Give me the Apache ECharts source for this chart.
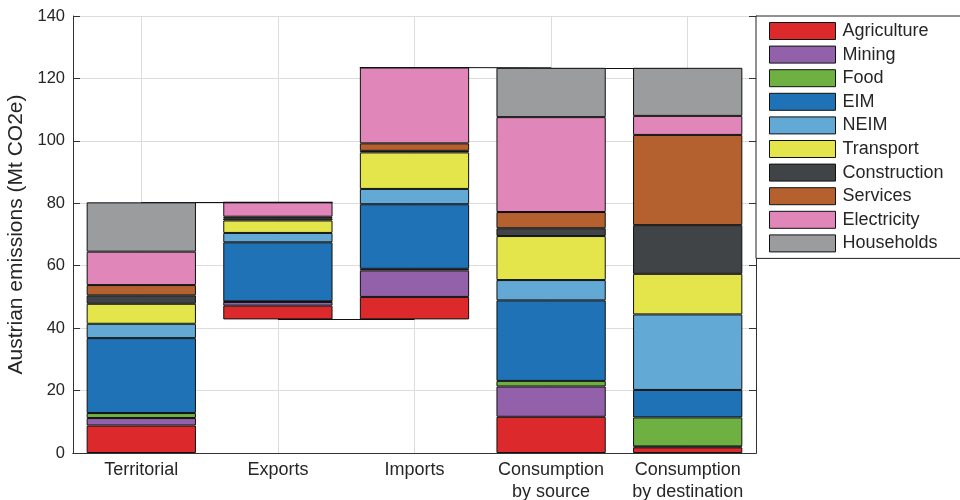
<!DOCTYPE html>
<html>
<head>
<meta charset="utf-8">
<script src="https://cdn.jsdelivr.net/npm/echarts@6/dist/echarts.min.js"></script>
<style>html,body{margin:0;padding:0;background:#fff}#c{width:960px;height:500px}</style>
</head>
<body>
<div id="c"></div>
<script>
const categories = ['Territorial', 'Exports', 'Imports', 'Consumption\nby source', 'Consumption\nby destination'];
const sectors = ['Agriculture', 'Mining', 'Food', 'EIM', 'NEIM', 'Transport', 'Construction', 'Services', 'Electricity', 'Households'];
const agriculture  = [8.8, 4.4, 7.2, 11.6, 1.8];
const mining       = [2.4, 1.2, 8.5, 9.7, 0.3];
const food         = [1.6, 0.2, 0.5, 1.8, 9.3];
const eim          = [24.0, 18.9, 20.7, 25.8, 8.8];
const neim         = [4.6, 3.0, 4.9, 6.5, 24.2];
const transport    = [6.4, 4.0, 11.7, 14.1, 13.0];
const construction = [2.7, 0.7, 0.5, 2.5, 15.6];
const services     = [3.3, 0.5, 2.4, 5.2, 28.9];
const electricity  = [10.7, 4.6, 24.3, 30.4, 6.1];
const households   = [15.8, 0, 0, 15.8, 15.4];
const yTicks = [0, 20, 40, 60, 80, 100, 120, 140];

const values = [agriculture, mining, food, eim, neim, transport, construction, services, electricity, households];
const colors = ['#dc2a2c', '#9360aa', '#6fb043', '#1f72b6', '#62a9d5', '#e4e54a', '#414446', '#b5612f', '#e086b9', '#9a9c9e'];

const totals = categories.map((_, i) => values.reduce((s, arr) => s + arr[i], 0));
const exportBase = totals[0] - totals[1];
const base = [0, exportBase, exportBase, 0, 0];
const importTop = exportBase + totals[2];

const font = 'Liberation Sans, Arial, sans-serif';
const txt = '#262626';
const gridCol = '#dcdcdc';

const series = [{
  name: 'base', type: 'bar', stack: 'all', data: base, silent: true,
  itemStyle: { color: 'rgba(0,0,0,0)', borderWidth: 0 },
  barCategoryGap: '20%',
  markLine: {
    z: 1, silent: true, symbol: 'none', label: { show: false },
    animation: false,
    data: [
      ...categories.map((_, i) => ({ xAxis: i, lineStyle: { color: gridCol, width: 1, type: 'solid' } })),
      [{ coord: [0, totals[0]] }, { coord: [1, totals[0]] }],
      [{ coord: [1, exportBase] }, { coord: [2, exportBase] }],
      [{ coord: [2, importTop] }, { coord: [3, totals[3]] }],
      [{ coord: [3, totals[3]] }, { coord: [4, totals[4]] }]
    ],
    lineStyle: { color: '#111', width: 1, type: 'solid' }
  }
}];
sectors.forEach((s, k) => {
  series.push({
    name: s, type: 'bar', stack: 'all', data: values[k],
    barCategoryGap: '20%',
    itemStyle: { color: colors[k], borderColor: '#111', borderWidth: 1 }
  });
});

const chart = echarts.init(document.getElementById('c'), null, { renderer: 'canvas' });
chart.setOption({
  animation: false,
  textStyle: { fontFamily: font },
  grid: { left: 73, right: 204, top: 16, bottom: 47, containLabel: false, outerBoundsMode: 'none' },
  legend: {
    data: sectors, orient: 'vertical', left: 756, top: 16,
    itemWidth: 66, itemHeight: 17, itemGap: 5.6,
    padding: [6, 40, 6, 13],
    borderColor: '#222', borderWidth: 1, backgroundColor: '#fff',
    textStyle: { fontSize: 18, lineHeight: 17, color: txt, fontFamily: font, padding: [0, 0, 0, 2] },
    itemStyle: { borderColor: '#111', borderWidth: 1 },
    icon: 'rect', selectedMode: false
  },
  xAxis: [{
    type: 'category', data: categories, position: 'bottom',
    axisLine: { lineStyle: { color: '#333', width: 1 } },
    axisTick: { inside: true, alignWithLabel: true, length: 7, lineStyle: { color: '#333' } },
    axisLabel: { fontSize: 18, color: txt, margin: 6, lineHeight: 22, interval: 0 },
    splitLine: { show: false }
  }, {
    type: 'category', data: categories, position: 'top',
    axisLine: { lineStyle: { color: '#333', width: 1 } },
    axisTick: { inside: true, alignWithLabel: true, length: 7, lineStyle: { color: '#333' } },
    axisLabel: { show: false }, splitLine: { show: false }
  }],
  yAxis: [{
    type: 'value', min: yTicks[0], max: yTicks[yTicks.length - 1], interval: 20,
    name: 'Austrian emissions (Mt CO2e)', nameLocation: 'middle', nameGap: 42,
    nameTextStyle: { fontSize: 21, color: txt },
    axisLine: { show: true, lineStyle: { color: '#333', width: 1 } },
    axisTick: { show: true, inside: true, length: 7, lineStyle: { color: '#333' } },
    axisLabel: { fontSize: 16.5, color: txt, margin: 8 },
    splitLine: { show: true, lineStyle: { color: gridCol, width: 1 } }
  }, {
    type: 'value', position: 'right', min: yTicks[0], max: yTicks[yTicks.length - 1], interval: 20,
    axisLine: { show: true, lineStyle: { color: '#333', width: 1 } },
    axisTick: { show: true, inside: true, length: 7, lineStyle: { color: '#333' } },
    axisLabel: { show: false }, splitLine: { show: false }
  }],
  series: series
});
</script>
</body>
</html>
